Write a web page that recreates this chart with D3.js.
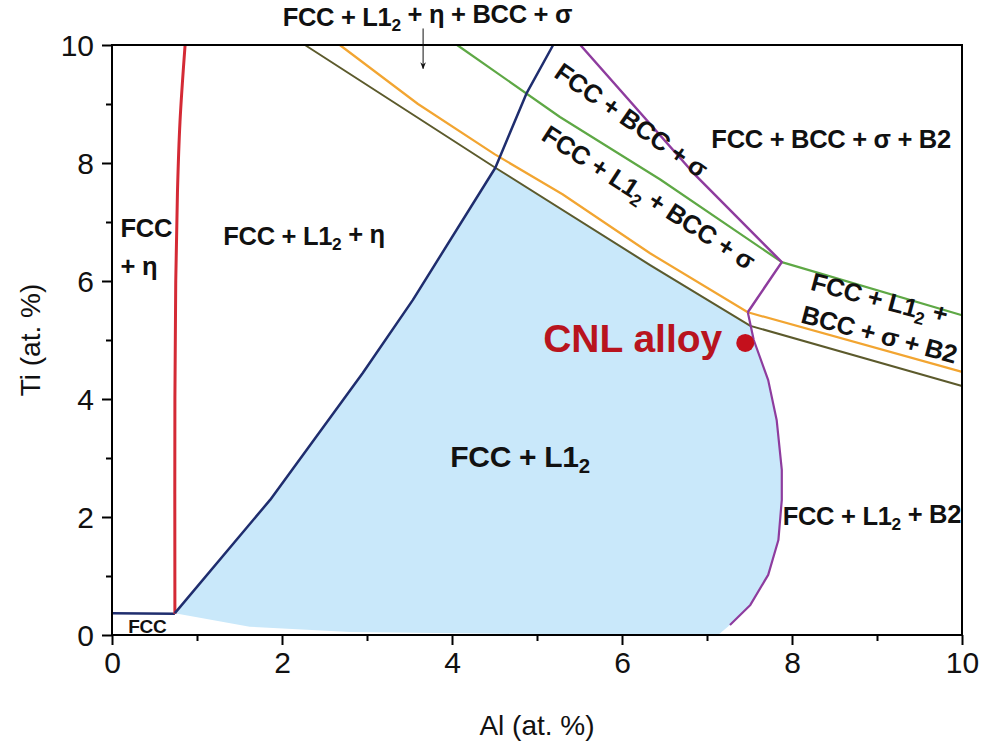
<!DOCTYPE html>
<html>
<head>
  <title>Al-Ti phase diagram</title>
  <style>
    body { margin: 0; background: #fff; font-family: "Liberation Sans", Arial, sans-serif; }
    .lbl { font-weight: bold; fill: #111; }
  </style>
  <script src="https://d3js.org/d3.v7.min.js"></script>
</head>
<body>
  <div id="chart"></div>
  <script>
    // boundary lines, [Al, Ti] in at.%
    const fccLine = [[0, 0.37], [0.74, 0.36]];
    const redLine = [[0.74, 0.36], [0.74, 4], [0.75, 6], [0.77, 7.5], [0.8, 8.7], [0.86, 10]];
    const navyLine = [[0.74, 0.37], [1.86, 2.29], [2.95, 4.44], [3.54, 5.68], [4.51, 7.92], [4.88, 9.19], [5.19, 10]];
    const oliveLine = [[2.27, 10], [4.51, 7.92], [6.33, 6.27], [7.51, 5.24], [10, 4.22]];
    const orangeLine = [[2.68, 10], [3.6, 9.0], [4.5, 8.15], [5.3, 7.47], [6.33, 6.47], [7.48, 5.47], [10, 4.46]];
    const greenLine = [[4.06, 10], [5.27, 8.78], [6.45, 7.72], [7.88, 6.32], [10, 5.42]];
    const purpleUpper = [[5.51, 10], [6.84, 7.83], [7.88, 6.32], [7.48, 5.47]];
    const purpleLower = [[7.48, 5.47], [7.55, 5.0], [7.72, 4.32], [7.82, 3.64], [7.88, 2.8], [7.88, 2.29],
                         [7.84, 1.61], [7.72, 1.02], [7.51, 0.51], [7.27, 0.17], [7.13, 0]];
    const bottomEdge = [[7.13, 0], [4.56, 0.02], [2.8, 0.05], [1.62, 0.14], [0.74, 0.37]];
    const alloy = [7.45, 4.95];

    const xTicks = [0, 2, 4, 6, 8, 10];
    const yTicks = [0, 2, 4, 6, 8, 10];
    const minorTicks = [1, 3, 5, 7, 9];

    const W = 984, H = 750;
    const margin = { top: 45, right: 22, bottom: 115, left: 112 };
    const width = W - margin.left - margin.right;
    const height = H - margin.top - margin.bottom;

    const svg = d3.select("#chart").append("svg").attr("width", W).attr("height", H);
    const g = svg.append("g").attr("transform", `translate(${margin.left},${margin.top})`);

    const x = d3.scaleLinear().domain([0, 10]).range([0, width]);
    const y = d3.scaleLinear().domain([0, 10]).range([height, 0]);
    const line = d3.line().x(d => x(d[0])).y(d => y(d[1]));
    const smooth = d3.line().x(d => x(d[0])).y(d => y(d[1])).curve(d3.curveCatmullRom);

    // single-phase FCC + L12 field
    const fillRegion = navyLine.slice(0, 5)
      .concat([[7.51, 5.24]])
      .concat(purpleLower.slice(1))
      .concat(bottomEdge.slice(1));
    g.append("path").attr("d", line(fillRegion) + "Z").attr("fill", "#c9e8fa");

    const strokes = [
      [fccLine, "#1f2d6e", 2.5, line],
      [redLine, "#d42a35", 3, smooth],
      [oliveLine, "#5c5a2c", 2, line],
      [orangeLine, "#f2a531", 2.2, line],
      [greenLine, "#5ea845", 2.2, line],
      [navyLine, "#1f2d6e", 2.5, line],
      [purpleUpper, "#8e3c9e", 2.5, line],
      [purpleLower.slice(0, 10), "#8e3c9e", 2.2, line]
    ];
    strokes.forEach(([pts, col, w, gen]) => {
      g.append("path").attr("d", gen(pts)).attr("fill", "none")
        .attr("stroke", col).attr("stroke-width", w).attr("stroke-linejoin", "round");
    });

    g.append("circle").attr("cx", x(alloy[0])).attr("cy", y(alloy[1])).attr("r", 9).attr("fill", "#c4101c");

    // frame and axes
    g.append("rect").attr("width", width).attr("height", height)
      .attr("fill", "none").attr("stroke", "#000").attr("stroke-width", 2);

    g.append("g").attr("transform", `translate(0,${height})`)
      .call(d3.axisBottom(x).tickValues(xTicks).tickSize(10).tickPadding(7));
    g.append("g").attr("transform", `translate(0,${height})`)
      .call(d3.axisBottom(x).tickValues(minorTicks).tickSize(6).tickFormat(""));
    const ay = g.append("g")
      .call(d3.axisLeft(y).tickValues(yTicks).tickSize(10).tickPadding(8));
    g.append("g").call(d3.axisLeft(y).tickValues(minorTicks).tickSize(6).tickFormat(""));
    g.selectAll(".domain").remove();
    g.selectAll(".tick line").attr("stroke", "#000").attr("stroke-width", 2);
    g.selectAll(".tick text").attr("font-family", "Liberation Sans, Arial, sans-serif")
      .attr("font-size", 30).attr("fill", "#111");
    ay.selectAll(".tick text").attr("dy", "0.36em");

    g.append("text").attr("x", width / 2).attr("y", height + 100).attr("text-anchor", "middle")
      .attr("font-size", 28).attr("fill", "#111").text("Al (at. %)");
    g.append("text").attr("transform", `translate(-72,${height / 2}) rotate(-90)`)
      .attr("text-anchor", "middle").attr("font-size", 28).attr("fill", "#111").text("Ti (at. %)");

    // phase labels; "_2" marks a subscript 2
    function label(str, ax0, ay0, opts = {}) {
      const size = opts.size || 25.5;
      const t = g.append("text").attr("class", "lbl")
        .attr("font-size", size)
        .attr("text-anchor", opts.anchor || "middle")
        .attr("letter-spacing", opts.ls !== undefined ? opts.ls : -0.3)
        .attr("transform", `translate(${x(ax0)},${y(ay0)}) rotate(${opts.rot || 0})`);
      if (opts.fill) t.style("fill", opts.fill);
      const parts = str.split("_2");
      parts.forEach((p, i) => {
        t.append("tspan").attr("dy", i > 0 ? "-0.3em" : null).text(p);
        if (i < parts.length - 1) {
          t.append("tspan").attr("font-size", size * 0.68).attr("dy", "0.3em").text("2");
        }
      });
      return t;
    }

    label("FCC + L1_2 + η + BCC + σ", 3.71, 10.33);
    label("FCC", 0.1, 6.75, { anchor: "start" });
    label("+ η", 0.1, 6.1, { anchor: "start" });
    label("FCC + L1_2 + η", 2.26, 6.61);
    label("FCC + L1_2", 4.8, 2.85, { size: 30 });
    label("FCC + BCC + σ + B2", 8.46, 8.25);
    label("FCC + L1_2 + B2", 8.94, 1.86);
    label("FCC", 0.19, 0.03, { anchor: "start", size: 19 });
    label("CNL alloy", 7.18, 4.8, { anchor: "end", size: 39, ls: 0, fill: "#b8141e" });
    label("FCC + BCC + σ", 6.05, 8.6, { rot: 35 });
    label("FCC + L1_2 + BCC + σ", 6.25, 7.27, { rot: 33 });
    label("FCC + L1_2 +", 9.0, 5.55, { rot: 15 });
    label("BCC + σ + B2", 9.0, 4.95, { rot: 15 });

    // arrow pointing into the five-phase sliver
    svg.append("defs").append("marker").attr("id", "ah")
      .attr("viewBox", "0 0 10 10").attr("refX", 9).attr("refY", 5)
      .attr("markerWidth", 7).attr("markerHeight", 7).attr("orient", "auto")
      .append("path").attr("d", "M0,1L10,5L0,9L3,5Z").attr("fill", "#111");
    g.append("line").attr("x1", x(3.66)).attr("y1", y(10.28)).attr("x2", x(3.66)).attr("y2", y(9.6))
      .attr("stroke", "#111").attr("stroke-width", 1).attr("marker-end", "url(#ah)");
  </script>
</body>
</html>
